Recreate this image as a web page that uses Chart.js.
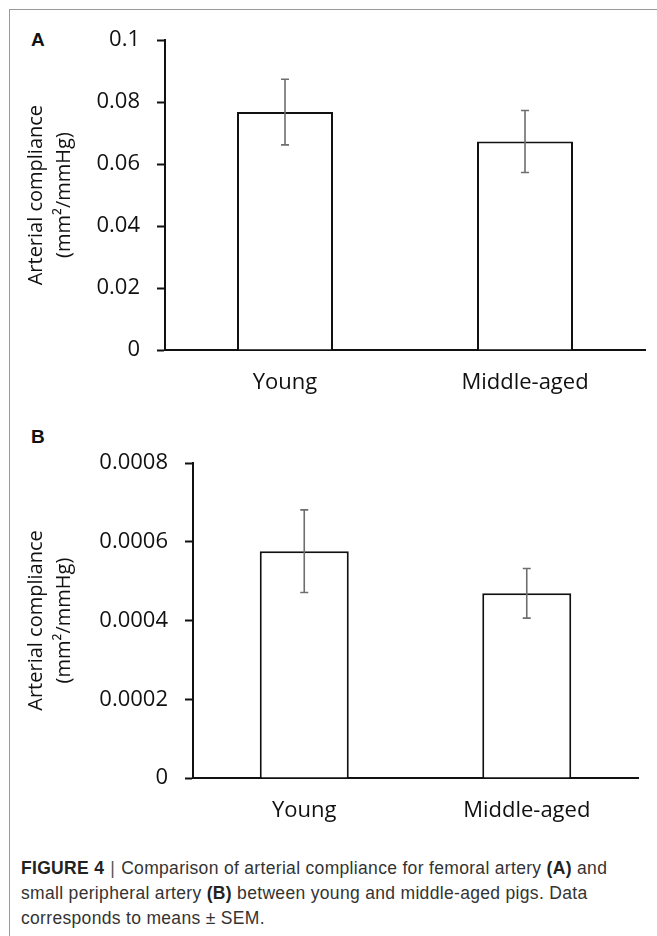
<!DOCTYPE html>
<html>
<head>
<meta charset="utf-8">
<script src="https://cdn.jsdelivr.net/npm/chart.js@4.4.0/dist/chart.umd.min.js"></script>
<style>
  body { margin: 0; background: #fff; width: 657px; height: 936px; position: relative; overflow: hidden; }
  .frame { position: absolute; left: 9px; top: 9px; right: 0; bottom: 0; border-top: 1.5px solid #9a9a9a; border-left: 1.5px solid #9a9a9a; }
  .panel { position: absolute; font: bold 19px "Liberation Sans", Arial, sans-serif; color: #111; }
  .wrap { position: absolute; left: 10px; width: 640px; }
  .caption { position: absolute; left: 21px; top: 856px; font: 17.5px/25px "Liberation Sans", Arial, sans-serif; letter-spacing: 0.32px; color: #333; white-space: nowrap; }
  .caption b { color: #222; }
  .caption .sep { color: #555; margin: 0 6px; }
</style>
</head>
<body>
<div class="frame"></div>
<div class="panel" style="left:31px;top:29px;">A</div>
<div class="panel" style="left:31px;top:426px;">B</div>
<div class="wrap" style="top:10px;height:390px;"><canvas id="chartA"></canvas></div>
<div class="wrap" style="top:410px;height:420px;"><canvas id="chartB"></canvas></div>
<div class="caption">
  <b>FIGURE 4</b><span class="sep">|</span>Comparison of arterial compliance for femoral artery <b>(A)</b> and<br>
  small peripheral artery <b>(B)</b> between young and middle-aged pigs. Data<br>
  corresponds to means ± SEM.
</div>
<script>
var groups = ["Young", "Middle-aged"];

// femoral artery (A)
var femoralMean = [0.0768, 0.0673];
var femoralSem = [0.0106, 0.0100];

// small peripheral artery (B)
var peripheralMean = [0.000576, 0.000469];
var peripheralSem = [0.000105, 0.000063];

var yTitle = ["Arterial compliance", "(mm\u00b2/mmHg)"];

var tickFont = {family: "'Open Sans', sans-serif", size: 22};

var errorBars = {
  id: "errorBars",
  afterDatasetsDraw: function(chart, args, opts) {
    var ctx = chart.ctx;
    var meta = chart.getDatasetMeta(0);
    var y = chart.scales.y;
    ctx.save();
    ctx.strokeStyle = "#6e6e6e";
    ctx.lineWidth = 1.6;
    meta.data.forEach(function(bar, i) {
      var m = opts.mean[i], e = opts.sem[i];
      var top = y.getPixelForValue(m + e);
      var bot = y.getPixelForValue(m - e);
      ctx.beginPath();
      ctx.moveTo(bar.x, top); ctx.lineTo(bar.x, bot);
      ctx.moveTo(bar.x - 4, top); ctx.lineTo(bar.x + 4, top);
      ctx.moveTo(bar.x - 4, bot); ctx.lineTo(bar.x + 4, bot);
      ctx.stroke();
    });
    ctx.restore();
  }
};

function makeChart(id, mean, sem, max, step, digits, yWidth, xHeight, pad) {
  return new Chart(document.getElementById(id), {
    type: "bar",
    data: {
      labels: groups,
      datasets: [{
        data: mean,
        backgroundColor: "#fff",
        borderColor: "#111",
        borderWidth: 2,
        barPercentage: 0.4,
        categoryPercentage: 1
      }]
    },
    options: {
      responsive: true,
      maintainAspectRatio: false,
      animation: false,
      layout: {padding: pad},
      plugins: {
        legend: {display: false},
        tooltip: {enabled: false},
        errorBars: {mean: mean, sem: sem}
      },
      scales: {
        x: {
          grid: {display: false},
          border: {color: "#111", width: 2},
          ticks: {color: "#111", font: tickFont, padding: 12},
          afterFit: function(s) { s.height = xHeight; }
        },
        y: {
          min: 0,
          max: max,
          ticks: {
            stepSize: step,
            color: "#111",
            font: tickFont,
            padding: 17,
            callback: function(v) { return String(parseFloat(v.toFixed(digits))); }
          },
          grid: {drawOnChartArea: false, tickLength: 8, tickColor: "#111", tickWidth: 2},
          border: {color: "#111", width: 2},
          title: {
            display: true,
            text: yTitle,
            color: "#111",
            font: {family: "'Open Sans', sans-serif", size: 20, lineHeight: 1.4},
            padding: {top: 12, bottom: 0}
          },
          afterFit: function(s) { s.width = yWidth; }
        }
      }
    },
    plugins: [errorBars]
  });
}

makeChart("chartA", femoralMean, femoralSem, 0.1, 0.02, 2, 155, 50, {top: 27, right: 5, left: 0, bottom: 0});
makeChart("chartB", peripheralMean, peripheralSem, 0.0008, 0.0002, 4, 183, 52, {top: 53, right: 12, left: 0, bottom: 0});
</script>
</body>
</html>
